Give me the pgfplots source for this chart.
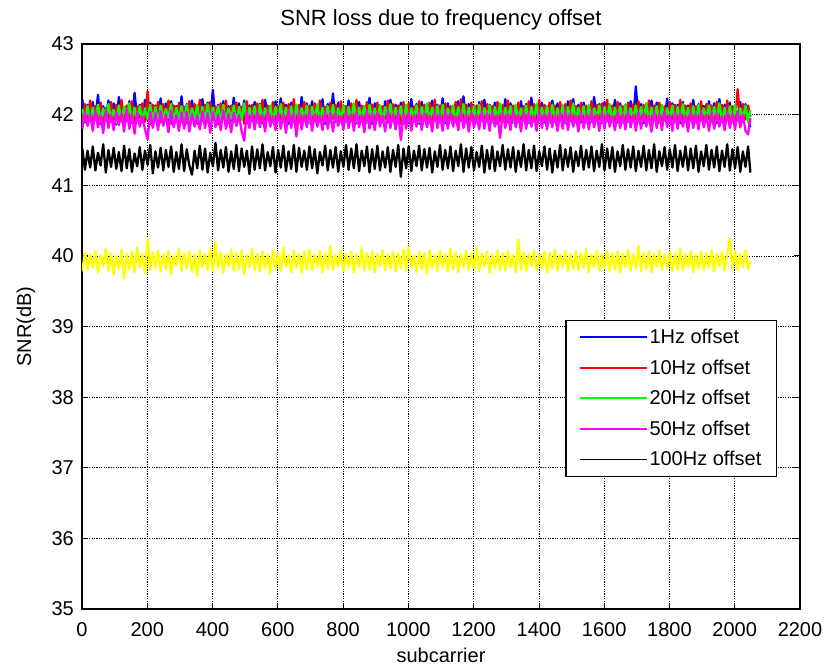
\documentclass[border=0pt]{standalone}
\usepackage{fontspec}
\setmainfont{Liberation Sans}
\usepackage{pgfplots}
\pgfplotsset{compat=1.18}
\usepackage{pgfplotstable}
\definecolor{mblue}{rgb}{0,0,1}
\definecolor{mred}{rgb}{1,0,0}
\definecolor{mgreen}{rgb}{0,1,0}
\definecolor{mmag}{rgb}{1,0,1}
\definecolor{myel}{rgb}{1,1,0}
\pgfplotstableread{
x b r g m k y
1 42.22 41.90 42.08 41.80 41.52 39.78
9 41.89 42.15 41.91 42.03 41.22 40.05
17 42.14 41.95 42.12 41.84 41.49 39.80
25 41.92 42.20 41.90 42.01 41.25 40.02
33 42.18 41.88 42.10 41.77 41.55 39.83
41 41.95 42.12 41.93 42.05 41.21 40.07
49 42.28 41.92 42.14 41.82 41.46 39.76
57 41.87 42.17 41.89 41.99 41.28 40.01
65 42.12 41.86 42.09 41.74 41.58 39.85
73 41.94 42.09 41.92 42.06 41.18 40.10
81 42.20 41.93 42.15 41.81 41.50 39.79
89 41.90 42.18 41.94 42.00 41.26 40.04
97 42.16 41.89 42.07 41.78 41.53 39.73
105 41.86 42.14 41.88 42.04 41.23 40.00
113 42.25 41.94 42.13 41.85 41.47 39.82
121 41.93 42.21 41.90 42.02 41.20 40.09
129 42.11 41.87 42.11 41.76 41.56 39.68
137 41.91 42.13 41.95 42.07 41.24 40.03
145 42.19 41.91 42.16 41.80 41.51 39.81
153 41.88 42.19 41.89 42.01 41.19 40.06
161 42.31 41.88 42.10 41.73 41.45 39.77
169 41.95 42.12 41.93 42.03 41.27 40.12
177 42.14 41.95 42.12 41.83 41.54 39.84
185 41.89 42.16 41.91 41.98 41.22 40.02
193 42.21 41.90 42.09 41.79 41.49 39.75
201 41.92 42.33 41.94 41.65 41.29 40.24
209 42.17 41.86 42.14 42.04 41.57 39.80
217 41.87 42.14 41.90 41.81 41.17 40.05
225 42.13 41.93 42.11 42.02 41.48 39.83
233 41.94 42.18 41.88 41.78 41.25 40.08
241 42.23 41.89 42.13 42.05 41.53 39.78
249 41.90 42.15 41.92 41.84 41.21 40.03
257 42.16 41.92 42.08 42.00 41.50 39.81
265 41.86 42.20 41.95 41.75 41.26 40.07
273 42.19 41.87 42.15 42.06 41.55 39.74
281 41.93 42.13 41.89 41.82 41.19 40.01
289 42.12 41.94 42.10 41.99 41.47 39.86
297 41.91 42.17 41.93 41.77 41.23 40.10
305 42.26 41.90 42.12 42.03 41.58 39.79
313 41.88 42.11 41.90 41.80 41.20 40.04
321 42.15 41.88 42.14 42.04 41.51 39.82
329 41.95 42.19 41.91 41.76 41.28 40.06
337 42.20 41.93 42.09 42.01 41.15 39.77
345 41.89 42.15 41.94 41.83 41.49 40.02
353 42.13 41.87 42.13 41.98 41.24 39.72
361 41.92 42.21 41.89 41.79 41.56 40.08
369 42.22 41.91 42.11 42.05 41.22 39.84
377 41.87 42.14 41.92 41.81 41.52 40.03
385 42.17 41.89 42.15 42.02 41.18 39.80
393 41.93 42.18 41.90 41.74 41.46 40.11
401 42.35 41.92 42.10 42.04 41.27 39.78
409 41.90 42.12 41.93 41.82 41.60 40.19
417 42.14 41.86 42.12 42.00 41.21 39.83
425 41.88 42.16 41.88 41.78 41.50 40.05
433 42.19 41.94 42.14 42.06 41.25 39.76
441 41.94 42.20 41.91 41.80 41.54 40.02
449 42.12 41.88 42.09 42.01 41.19 39.85
457 41.91 42.13 41.94 41.75 41.48 40.09
465 42.24 41.90 42.13 42.03 41.23 39.79
473 41.89 42.17 41.89 41.84 41.57 40.04
481 42.16 41.93 42.11 41.99 41.20 39.81
489 41.93 42.11 41.92 41.77 41.52 40.07
497 42.20 41.87 42.16 41.63 41.26 39.74
505 41.87 42.19 41.90 42.05 41.49 40.01
513 42.13 41.91 42.10 41.81 41.16 39.84
521 41.92 42.14 41.93 42.02 41.55 40.10
529 42.18 41.89 42.12 41.79 41.22 39.80
537 41.90 42.16 41.88 42.04 41.51 40.03
545 42.15 41.93 42.14 41.82 41.24 39.78
553 41.88 42.21 41.91 42.00 41.58 40.06
561 42.21 41.88 42.09 41.76 41.21 39.83
569 41.94 42.13 41.94 42.05 41.47 40.02
577 42.12 41.90 42.13 41.83 41.27 39.75
585 41.89 42.18 41.89 41.98 41.54 40.08
593 42.19 41.86 42.11 41.78 41.18 39.82
601 41.93 42.12 41.92 42.03 41.50 40.04
609 42.23 41.94 42.15 41.80 41.25 39.79
617 41.90 42.17 41.90 42.01 41.56 40.12
625 42.14 41.89 42.10 41.74 41.20 39.85
633 41.87 42.15 41.93 42.06 41.48 40.01
641 42.17 41.92 42.12 41.81 41.23 39.77
649 41.92 42.22 41.89 42.02 41.57 40.07
657 42.13 41.87 42.14 41.69 41.19 39.83
665 41.89 42.14 41.91 42.04 41.53 40.03
673 42.25 41.91 42.09 41.79 41.26 39.76
681 41.94 42.18 41.94 42.00 41.49 40.06
689 42.16 41.88 42.13 41.82 41.22 39.81
697 41.88 42.13 41.88 42.05 41.55 40.09
705 42.19 41.93 42.11 41.77 41.24 39.79
713 41.91 42.16 41.92 42.01 41.51 40.02
721 42.12 41.89 42.15 41.83 41.17 39.84
729 41.93 42.20 41.90 41.99 41.47 40.07
737 42.22 41.92 42.10 41.78 41.28 39.77
745 41.87 42.11 41.93 42.04 41.56 40.04
753 42.15 41.87 42.12 41.80 41.21 39.82
761 41.92 42.17 41.89 42.03 41.50 40.14
769 42.30 41.94 42.14 41.76 41.25 39.80
777 41.90 42.14 41.91 42.02 41.54 40.01
785 42.17 41.90 42.09 41.84 41.19 39.85
793 41.94 42.19 41.94 41.98 41.48 40.08
801 42.13 41.88 42.13 41.79 41.26 39.78
809 41.89 42.12 41.89 42.05 41.57 40.03
817 42.20 41.93 42.11 41.81 41.22 39.83
825 41.92 42.16 41.92 42.01 41.52 40.06
833 42.14 41.89 42.16 41.77 41.24 39.76
841 41.88 42.21 41.90 42.04 41.58 40.02
849 42.18 41.91 42.10 41.82 41.20 39.84
857 41.93 42.13 41.93 42.00 41.49 40.11
865 42.12 41.87 42.12 41.75 41.27 39.79
873 41.90 42.18 41.88 42.06 41.55 40.04
881 42.24 41.92 42.14 41.80 41.18 39.81
889 41.87 42.14 41.91 42.02 41.51 40.07
897 42.16 41.90 42.09 41.78 41.23 39.77
905 41.94 42.17 41.94 42.03 41.56 40.03
913 42.13 41.88 42.13 41.83 41.21 39.85
921 41.91 42.12 41.89 41.99 41.48 40.08
929 42.19 41.94 42.11 41.76 41.25 39.80
937 41.89 42.20 41.92 42.05 41.54 40.02
945 42.21 41.89 42.15 41.81 41.19 39.83
953 41.92 42.15 41.90 42.01 41.50 40.06
961 42.14 41.92 42.10 41.79 41.26 39.78
969 41.88 42.13 41.93 42.04 41.57 40.04
977 42.17 41.87 42.12 41.64 41.12 39.82
985 41.93 42.18 41.88 42.02 41.52 40.09
993 42.12 41.91 42.14 41.80 41.24 39.79
1001 41.90 42.16 41.91 42.03 41.55 40.13
1009 42.22 41.89 42.09 41.77 41.20 39.84
1017 41.94 42.12 41.94 42.00 41.49 40.01
1025 42.15 41.93 42.13 41.83 41.27 39.77
1033 41.87 42.19 41.89 42.05 41.56 40.06
1041 42.18 41.88 42.11 41.78 41.21 39.81
1049 41.92 42.14 41.92 42.02 41.51 40.04
1057 42.13 41.91 42.16 41.82 41.25 39.75
1065 41.89 42.17 41.90 41.99 41.53 40.08
1073 42.20 41.87 42.10 41.76 41.18 39.83
1081 41.93 42.21 41.93 42.04 41.48 40.02
1089 42.14 41.90 42.12 41.81 41.26 39.79
1097 41.91 42.13 41.88 42.01 41.57 40.07
1105 42.23 41.92 42.14 41.77 41.22 39.84
1113 41.88 42.16 41.91 42.05 41.50 40.03
1121 42.16 41.88 42.09 41.80 41.24 39.78
1129 41.94 42.12 41.94 42.02 41.55 40.10
1137 42.12 41.93 42.13 41.83 41.20 39.81
1145 41.90 42.18 41.89 41.98 41.49 40.05
1153 42.19 41.89 42.11 41.78 41.27 39.77
1161 41.92 42.22 41.92 42.04 41.58 40.02
1169 42.26 41.91 42.15 41.81 41.19 39.84
1177 41.89 42.14 41.90 42.01 41.52 40.07
1185 42.15 41.87 42.10 41.76 41.25 39.80
1193 41.93 42.17 41.93 42.03 41.54 40.04
1201 42.13 41.92 42.12 41.82 41.21 39.82
1209 41.88 42.13 41.88 42.00 41.47 40.12
1217 42.18 41.90 42.14 41.79 41.26 39.78
1225 41.91 42.19 41.91 42.05 41.56 40.03
1233 42.21 41.88 42.09 41.80 41.18 39.85
1241 41.94 42.15 41.94 42.02 41.50 40.06
1249 42.14 41.93 42.13 41.77 41.23 39.76
1257 41.90 42.12 41.89 42.04 41.55 40.02
1265 42.17 41.89 42.11 41.83 41.20 39.83
1273 41.87 42.18 41.92 41.99 41.48 40.08
1281 42.12 41.91 42.16 41.67 41.27 39.80
1289 41.93 42.14 41.90 42.03 41.57 40.04
1297 42.22 41.87 42.10 41.81 41.22 39.79
1305 41.89 42.20 41.93 42.01 41.51 40.07
1313 42.16 41.92 42.12 41.78 41.25 39.84
1321 41.92 42.13 41.88 42.05 41.54 40.01
1329 42.13 41.90 42.14 41.82 41.19 39.77
1337 41.90 42.17 41.91 42.00 41.49 40.23
1345 42.19 41.88 42.09 41.76 41.26 39.81
1353 41.94 42.12 41.94 42.04 41.58 40.05
1361 42.15 41.93 42.13 41.80 41.21 39.78
1369 41.88 42.19 41.89 42.02 41.50 40.03
1377 42.24 41.89 42.11 41.83 41.24 39.85
1385 41.91 42.15 41.92 41.99 41.56 40.08
1393 42.14 41.91 42.15 41.77 41.20 39.80
1401 41.93 42.21 41.90 42.05 41.48 40.02
1409 42.17 41.87 42.10 41.81 41.27 39.83
1417 41.89 42.14 41.93 42.01 41.55 40.06
1425 42.12 41.92 42.12 41.79 41.22 39.76
1433 41.92 42.17 41.88 42.04 41.52 40.04
1441 42.20 41.88 42.14 41.82 41.18 39.82
1449 41.90 42.13 41.91 42.00 41.49 40.09
1457 42.16 41.90 42.09 41.77 41.25 39.79
1465 41.94 42.18 41.94 42.03 41.57 40.02
1473 42.13 41.93 42.13 41.80 41.21 39.84
1481 41.88 42.15 41.89 42.05 41.51 40.07
1489 42.19 41.89 42.11 41.78 41.26 39.78
1497 41.91 42.20 41.92 42.02 41.54 40.03
1505 42.22 41.91 42.16 41.83 41.19 39.81
1513 41.93 42.12 41.90 41.99 41.48 40.06
1521 42.14 41.87 42.10 41.76 41.27 39.80
1529 41.89 42.17 41.93 42.04 41.56 40.04
1537 42.17 41.92 42.12 41.81 41.22 39.83
1545 41.92 42.13 41.88 42.01 41.50 40.10
1553 42.12 41.90 42.14 41.79 41.25 39.77
1561 41.90 42.19 41.91 42.05 41.55 40.02
1569 42.25 41.88 42.09 41.82 41.20 39.84
1577 41.94 42.14 41.94 42.00 41.49 40.07
1585 42.15 41.93 42.13 41.77 41.26 39.79
1593 41.88 42.16 41.89 42.03 41.58 40.03
1601 42.18 41.89 42.11 41.80 41.21 39.82
1609 41.91 42.21 41.92 42.02 41.52 40.08
1617 42.13 41.91 42.15 41.83 41.24 39.78
1625 41.93 42.13 41.90 41.98 41.54 40.04
1633 42.21 41.87 42.10 41.78 41.19 39.81
1641 41.89 42.18 41.93 42.04 41.48 40.06
1649 42.16 41.92 42.12 41.81 41.27 39.76
1657 41.92 42.12 41.88 42.01 41.57 40.03
1665 42.14 41.90 42.14 41.79 41.22 39.84
1673 41.90 42.17 41.91 42.05 41.51 40.09
1681 42.19 41.88 42.09 41.82 41.25 39.79
1689 41.94 42.15 41.94 42.00 41.55 40.02
1697 42.40 41.93 42.13 41.77 41.20 39.83
1705 41.92 42.19 41.89 42.03 41.49 40.14
1713 42.15 41.89 42.11 41.80 41.26 39.78
1721 41.88 42.14 41.92 42.02 41.56 40.04
1729 42.13 41.91 42.16 41.83 41.21 39.82
1737 41.91 42.20 41.90 41.99 41.50 40.07
1745 42.20 41.87 42.10 41.76 41.24 39.77
1753 41.93 42.13 41.93 42.04 41.58 40.03
1761 42.17 41.92 42.12 41.81 41.19 39.85
1769 41.89 42.17 41.88 42.01 41.48 40.08
1777 42.12 41.90 42.14 41.78 41.27 39.80
1785 41.92 42.12 41.91 42.05 41.54 40.02
1793 42.23 41.88 42.09 41.82 41.22 39.83
1801 41.90 42.18 41.94 42.00 41.51 40.06
1809 42.16 41.93 42.13 41.77 41.25 39.78
1817 41.94 42.14 41.89 42.03 41.57 40.04
1825 42.14 41.89 42.11 41.80 41.20 39.81
1833 41.88 42.21 41.92 42.02 41.49 40.10
1841 42.18 41.91 42.15 41.83 41.26 39.79
1849 41.91 42.13 41.90 41.99 41.55 40.03
1857 42.13 41.87 42.10 41.76 41.21 39.84
1865 41.93 42.16 41.93 42.04 41.52 40.07
1873 42.21 41.92 42.12 41.81 41.24 39.77
1881 41.89 42.12 41.88 42.01 41.56 40.02
1889 42.15 41.90 42.14 41.79 41.19 39.82
1897 41.92 42.19 41.91 42.05 41.48 40.06
1905 42.12 41.88 42.09 41.82 41.27 39.80
1913 41.90 42.15 41.94 42.00 41.57 40.04
1921 42.19 41.93 42.13 41.77 41.22 39.83
1929 41.94 42.13 41.89 42.03 41.50 40.08
1937 42.16 41.89 42.11 41.80 41.25 39.78
1945 41.88 42.18 41.92 42.02 41.55 40.03
1953 42.22 41.91 42.16 41.83 41.20 39.85
1961 41.91 42.14 41.90 41.98 41.49 40.06
1969 42.14 41.87 42.10 41.78 41.26 39.79
1977 41.93 42.20 41.93 42.04 41.58 40.02
1985 42.17 41.92 42.12 41.81 41.21 40.25
1993 41.89 42.12 41.88 42.01 41.51 39.82
2001 42.13 41.90 42.14 41.79 41.24 40.07
2009 41.92 42.36 41.91 42.05 41.54 39.80
2017 42.18 41.88 42.09 41.82 41.19 40.03
2025 41.90 42.15 41.94 42.00 41.48 39.84
2033 42.15 41.93 42.13 41.77 41.26 40.08
2041 41.94 42.13 41.89 41.72 41.55 39.81
2048 41.82 41.97 42.06 41.95 41.18 39.93
}\snrdata
\begin{document}
\begin{tikzpicture}
\useasboundingbox (-82pt,-56pt) rectangle (749pt,609pt);
\begin{axis}[
  at={(0pt,0pt)}, anchor=south west,
  scale only axis, width=718pt, height=565pt,
  xmin=0, xmax=2200, ymin=35, ymax=43,
  xtick={0,200,...,2200}, ytick={35,36,...,43},
  /pgf/number format/assume math mode=true,
  /pgf/number format/1000 sep={},
  tick align=inside, major tick length=6pt,
  tick style={black, line width=0.8pt},
  axis line style={black, line width=1.2pt},
  grid=major,
  major grid style={black, line width=0.7pt, dash pattern=on 1.2pt off 1.2pt},
  ticklabel style={font=\fontsize{20}{24}\selectfont},
  xticklabel style={anchor=base, yshift=-27pt},
  yticklabel style={anchor=east, inner sep=0pt, xshift=-8pt},
  title={SNR loss due to frequency offset},
  title style={font=\fontsize{22}{26}\selectfont, at={(axis description cs:0.5,1)}, anchor=base, yshift=13pt},
  xlabel={subcarrier},
  xlabel style={font=\fontsize{20}{24}\selectfont, at={(axis description cs:0.5,0)}, anchor=base, yshift=-53pt},
  ylabel={SNR(dB)},
  ylabel style={font=\fontsize{20}{24}\selectfont, at={(axis description cs:-0.078,0.5)}, anchor=center},
  legend image code/.code={\draw[#1] (0pt,0pt) -- (67pt,0pt);},
  legend style={at={(0.968,0.2336)}, anchor=south east, draw=black, line width=1.2pt, fill=white,
    font=\fontsize{20}{24}\selectfont, cells={anchor=west}, inner xsep=13pt, inner ysep=7pt, row sep=10.6pt,
    /tikz/every even column/.append style={column sep=9pt}},
]
\addlegendimage{draw=mblue, line width=1.6pt}
\addlegendentry{1Hz offset}
\addlegendimage{draw=mred, line width=1.6pt}
\addlegendentry{10Hz offset}
\addlegendimage{draw=mgreen, line width=1.6pt}
\addlegendentry{20Hz offset}
\addlegendimage{draw=mmag, line width=1.6pt}
\addlegendentry{50Hz offset}
\addlegendimage{draw=black, line width=1.6pt}
\addlegendentry{100Hz offset}
\addplot[draw=mblue, line width=2.3pt, line join=round, forget plot] table[x=x, y=b] {\snrdata};
\addplot[draw=mred, line width=2.3pt, line join=round, forget plot] table[x=x, y=r] {\snrdata};
\addplot[draw=mgreen, line width=2.3pt, line join=round, forget plot] table[x=x, y=g] {\snrdata};
\addplot[draw=mmag, line width=2.3pt, line join=round, forget plot] table[x=x, y=m] {\snrdata};
\addplot[draw=black, line width=2.3pt, line join=round, forget plot] table[x=x, y=k] {\snrdata};
\addplot[draw=myel, line width=2.3pt, line join=round, forget plot] table[x=x, y=y] {\snrdata};
\end{axis}
\end{tikzpicture}
\end{document}
